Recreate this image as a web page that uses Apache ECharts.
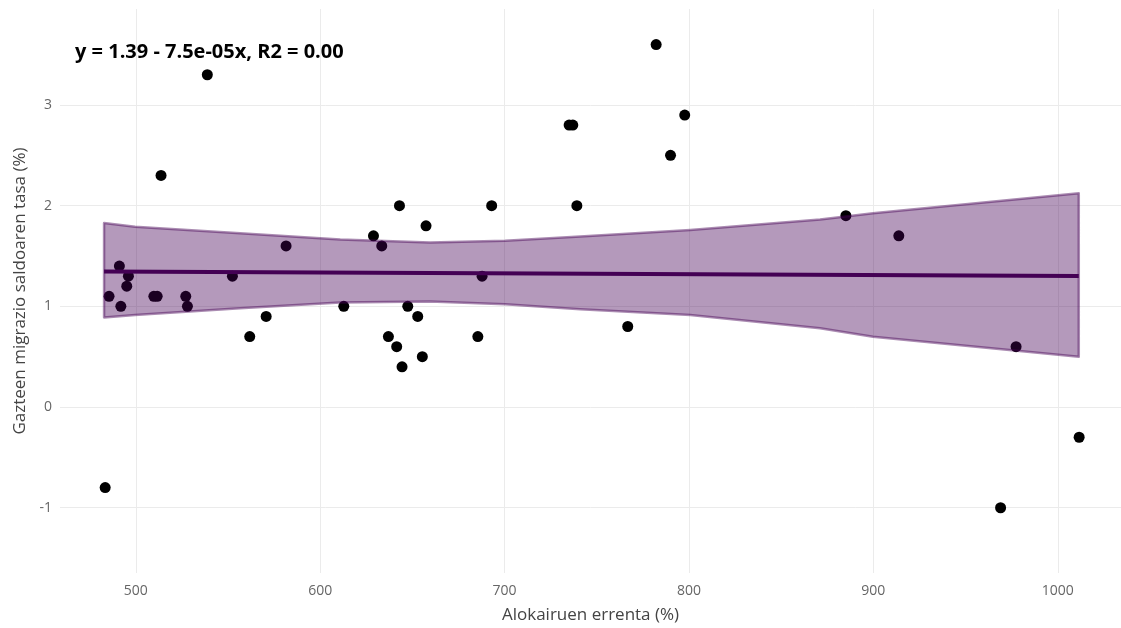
<!DOCTYPE html>
<html>
<head>
<meta charset="utf-8">
<script src="https://cdn.jsdelivr.net/npm/echarts@6/dist/echarts.min.js"></script>
<style>html,body{margin:0;padding:0;background:#fff}#c{width:1121px;height:628px}</style>
</head>
<body>
<div id="c"></div>
<script>
// Scatter data
var xVals = [483.4, 485.5, 491.1, 491.9, 495.1, 496.0, 509.8, 511.6, 513.7, 527.1, 528.0, 538.8, 552.4, 561.8, 570.7, 581.5, 612.8, 628.9, 633.4, 637.0, 641.5, 643.0, 644.4, 647.5, 652.9, 655.4, 657.4, 685.5, 687.8, 693.0, 735.0, 737.0, 739.2, 766.8, 782.2, 790.0, 797.7, 885.1, 913.8, 969.0, 977.4, 1011.6];
var yVals = [-0.8, 1.1, 1.4, 1.0, 1.2, 1.3, 1.1, 1.1, 2.3, 1.1, 1.0, 3.3, 1.3, 0.7, 0.9, 1.6, 1.0, 1.7, 1.6, 0.7, 0.6, 2.0, 0.4, 1.0, 0.9, 0.5, 1.8, 0.7, 1.3, 2.0, 2.8, 2.8, 2.0, 0.8, 3.6, 2.5, 2.9, 1.9, 1.7, -1.0, 0.6, -0.3];
// Confidence band
var bandX     = [482.8, 499.6, 556.6, 610.9, 659.6, 700.3, 741.0, 800.7, 871.1, 899.8, 1011.4];
var bandUpper = [1.828, 1.791, 1.726, 1.664, 1.633, 1.652, 1.694, 1.759, 1.863, 1.925, 2.123];
var bandLower = [0.890, 0.915, 0.981, 1.039, 1.047, 1.021, 0.971, 0.915, 0.783, 0.699, 0.500];
// Fit line endpoints
var fitX = [482.8, 1011.4];
var fitY = [1.345, 1.302];
// Ticks
var xTicks = [500, 600, 700, 800, 900, 1000];
var yTicks = [-1, 0, 1, 2, 3];
var xTitle = 'Alokairuen errenta (%)';
var yTitle = 'Gazteen migrazio saldoaren tasa (%)';
var eqText = 'y = 1.39 - 7.5e-05x, R2 = 0.00';

var FONT = '"Open Sans", "Noto Sans", sans-serif';
var chart = echarts.init(document.getElementById('c'), null, {renderer: 'canvas'});

var scatterData = xVals.map(function (x, i) { return [x, yVals[i]]; });
var fitData = fitX.map(function (x, i) { return [x, fitY[i]]; });

var option = {
  animation: false,
  backgroundColor: '#fff',
  grid: {left: 60, right: 0, top: 9, bottom: 55, containLabel: false, outerBoundsMode: 'none'},
  xAxis: {
    type: 'value', min: 458.9, max: 1034.3,
    name: xTitle, nameLocation: 'middle', nameGap: 34,
    nameTextStyle: {fontFamily: FONT, fontSize: 17, color: '#444'},
    axisLine: {show: false}, axisTick: {show: false, customValues: xTicks},
    axisLabel: {customValues: xTicks, fontFamily: FONT, fontSize: 14, color: '#666', margin: 11,
      formatter: function (v) { return String(v); }},
    splitLine: {show: true, lineStyle: {color: '#ebebeb', width: 1}}
  },
  yAxis: {
    type: 'value', min: -1.648, max: 3.953,
    name: yTitle, nameLocation: 'middle', nameGap: 31,
    nameTextStyle: {fontFamily: FONT, fontSize: 17, color: '#444'},
    axisLine: {show: false}, axisTick: {show: false, customValues: yTicks},
    axisLabel: {customValues: yTicks, fontFamily: FONT, fontSize: 14, color: '#666', margin: 8,
      formatter: function (v) { return String(v); }},
    splitLine: {show: true, lineStyle: {color: '#ebebeb', width: 1}}
  },
  graphic: [{
    type: 'text', left: 75, top: 42,
    style: {text: eqText, font: 'bold 20px ' + FONT, fill: '#000'}
  }],
  series: [
    {
      type: 'scatter', data: scatterData, symbolSize: 11,
      itemStyle: {color: '#000', opacity: 1}, z: 2
    },
    {
      type: 'custom', data: [[bandX[0], bandUpper[0]]], z: 3,
      renderItem: function (params, api) {
        var pts = [];
        for (var i = 0; i < bandX.length; i++) pts.push(api.coord([bandX[i], bandUpper[i]]));
        for (var j = bandX.length - 1; j >= 0; j--) pts.push(api.coord([bandX[j], bandLower[j]]));
        return {
          type: 'polygon', shape: {points: pts},
          style: {fill: 'rgba(68,1,84,0.4)', stroke: 'rgba(68,1,84,0.45)', lineWidth: 2.5, lineJoin: 'round'}
        };
      }
    },
    {
      type: 'line', data: fitData, showSymbol: false, z: 4,
      lineStyle: {color: '#440154', width: 4}
    }
  ]
};
chart.setOption(option);
</script>
</body>
</html>
